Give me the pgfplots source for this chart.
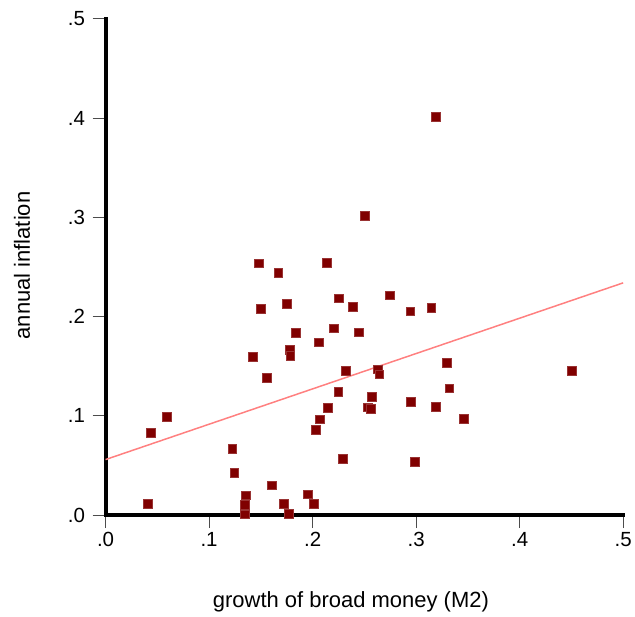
\documentclass[border=0pt]{standalone}
\usepackage{pgfplots}
\pgfplotsset{compat=1.18}
\usepackage{fontspec}
\setmainfont{Liberation Sans}
\definecolor{markred}{HTML}{800000}
\definecolor{fitred}{HTML}{FF8080}

\begin{document}
\begin{tikzpicture}
\begin{axis}[
  scale only axis,
  width=518.3pt, height=497pt,
  xmin=0, xmax=0.5, ymin=0, ymax=0.5,
  axis x line=bottom, axis y line=left,
  axis line style={-, line width=4pt, line cap=rect, black},
  xtick={0,0.1,0.2,0.3,0.4,0.5},
  ytick={0,0.1,0.2,0.3,0.4,0.5},
  xticklabels={.0,.1,.2,.3,.4,.5},
  yticklabels={.0,.1,.2,.3,.4,.5},
  tick align=outside,
  major tick length=13pt,
  tick style={gray!60!black, line width=0.9pt},
  ticklabel style={font=\fontsize{20.5}{22}\selectfont},
  xticklabel style={yshift=-1pt},
  yticklabel style={xshift=-4pt},
  xlabel={growth of broad money (M2)},
  ylabel={annual inflation},
  label style={font=\fontsize{22}{25}\selectfont},
  xlabel style={at={(rel axis cs:0.474,-0.175)}, anchor=center},
  ylabel style={at={(rel axis cs:-0.1615,0.503)}, anchor=center},
  clip=false,
]
% page extent around the axis
\path (rel axis cs:-0.204,-0.205) rectangle (rel axis cs:1.021,1.038);

% fitted line
\addplot[fitred, line width=1.5pt, no marks] coordinates {(0,0.056) (0.5,0.234)};

% observations
\addplot[only marks, mark=square*, mark size=4.4pt,
  mark options={fill=markred, draw=markred!80!white, line width=0.5pt}]
coordinates {
(0.0406,0.0118) (0.0438,0.0833) (0.0590,0.0994) (0.1224,0.0672)
(0.1244,0.0430) (0.1608,0.0302) (0.1357,0.0201) (0.1347,0.0108)
(0.1347,0.0010) (0.1724,0.0118) (0.1773,0.0017) (0.1480,0.2538)
(0.1669,0.2444) (0.1499,0.2082) (0.1753,0.2132) (0.1838,0.1836)
(0.1776,0.1665) (0.1785,0.1604) (0.1418,0.1594) (0.1560,0.1383)
(0.3188,0.4011) (0.2505,0.3018) (0.2137,0.2545) (0.2253,0.2185)
(0.2743,0.2216) (0.2389,0.2102) (0.2943,0.2054) (0.3146,0.2092)
(0.2201,0.1883) (0.2447,0.1843) (0.2056,0.1742) (0.2317,0.1457)
(0.2627,0.1470) (0.2643,0.1420) (0.3298,0.1534) (0.2247,0.1246)
(0.3320,0.1279) (0.2569,0.1191) (0.2143,0.1085) (0.2530,0.1088)
(0.2559,0.1070) (0.2946,0.1141) (0.3191,0.1091) (0.2066,0.0967)
(0.3458,0.0970) (0.2027,0.0863) (0.2288,0.0571) (0.2985,0.0541)
(0.1950,0.0211) (0.2008,0.0118) (0.4507,0.1453)
};
\end{axis}
\end{tikzpicture}
\end{document}
